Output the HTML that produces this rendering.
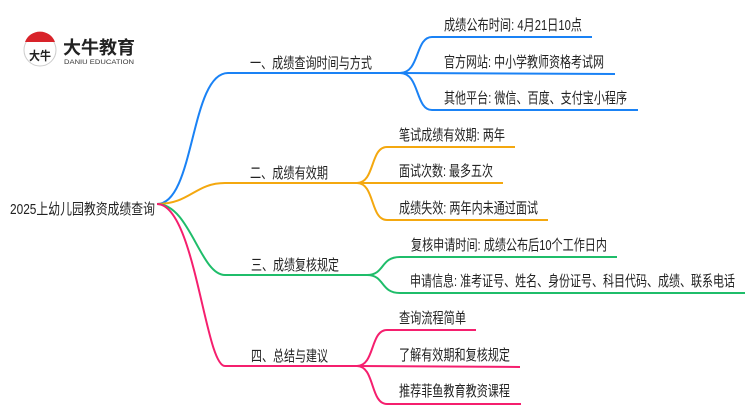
<!DOCTYPE html>
<html><head><meta charset="utf-8"><style>
body{margin:0;background:#fff;width:750px;height:410px;overflow:hidden;font-family:"Liberation Sans","Noto Sans CJK SC",sans-serif}
svg text{font-family:"Liberation Sans","Noto Sans CJK SC",sans-serif;fill:#222}
</style></head><body>
<svg width="750" height="410" viewBox="0 0 750 410" xmlns="http://www.w3.org/2000/svg">
<g fill="none" stroke-width="2">
<path d="M157,204 C195,204 190,73 228,73 L400,73" stroke="#1a82f5"/>
<path d="M157,204 C190,204 195,183 225,183 L357,183" stroke="#f4a80f"/>
<path d="M157,204 C190,204 200,275 225,275 L367,275" stroke="#1fbd6a"/>
<path d="M157,204 C195,204 205,366 225,366 L357,366" stroke="#f51f6e"/>
<g stroke="#1a82f5">
<path d="M400,73 C420,73 415,37 432,37 L592,37"/>
<path d="M400,73 L615,74"/>
<path d="M400,73 C420,73 415,110 432,110 L638,110"/>
</g>
<g stroke="#f4a80f">
<path d="M357,183 C375,183 370,147 387,147 L515,147"/>
<path d="M357,183 L503,183"/>
<path d="M357,183 C375,183 370,220 387,220 L548,220"/>
</g>
<g stroke="#1fbd6a">
<path d="M367,275 C385,275 380,257 400,257 L617,257"/>
<path d="M367,275 C385,275 380,293 400,293 L745,293"/>
</g>
<g stroke="#f51f6e">
<path d="M357,366 C375,366 370,330 387,330 L476,330"/>
<path d="M357,366 L520,367"/>
<path d="M357,366 C375,366 370,404 387,404 L521,404"/>
</g>
</g>
<circle cx="40" cy="50" r="16" fill="#fff" stroke="#ccc" stroke-width="1"/>
<path d="M25,42 A16,16 0 0 1 55,42 Z" fill="#d8232a"/>
<text x="29" y="60" font-size="12" font-weight="bold" textLength="22" lengthAdjust="spacingAndGlyphs">大牛</text>
<text x="63" y="54" font-size="18" font-weight="bold" textLength="72" lengthAdjust="spacingAndGlyphs">大牛教育</text>
<text x="64" y="64" font-size="6.5" style="fill:#333" textLength="70" lengthAdjust="spacingAndGlyphs">DANIU EDUCATION</text>
<g font-size="15" lengthAdjust="spacingAndGlyphs">
<text x="10" y="214" textLength="145" lengthAdjust="spacingAndGlyphs">2025上幼儿园教资成绩查询</text>
<text x="250" y="68" textLength="122" lengthAdjust="spacingAndGlyphs">一、成绩查询时间与方式</text>
<text x="250" y="178" textLength="78" lengthAdjust="spacingAndGlyphs">二、成绩有效期</text>
<text x="251" y="270" textLength="88" lengthAdjust="spacingAndGlyphs">三、成绩复核规定</text>
<text x="251" y="361" textLength="77" lengthAdjust="spacingAndGlyphs">四、总结与建议</text>
<text x="444" y="30" textLength="138" lengthAdjust="spacingAndGlyphs">成绩公布时间: 4月21日10点</text>
<text x="444" y="67" textLength="160" lengthAdjust="spacingAndGlyphs">官方网站: 中小学教师资格考试网</text>
<text x="444" y="103" textLength="183" lengthAdjust="spacingAndGlyphs">其他平台: 微信、百度、支付宝小程序</text>
<text x="399" y="140" textLength="106" lengthAdjust="spacingAndGlyphs">笔试成绩有效期: 两年</text>
<text x="399" y="176" textLength="94" lengthAdjust="spacingAndGlyphs">面试次数: 最多五次</text>
<text x="399" y="213" textLength="139" lengthAdjust="spacingAndGlyphs">成绩失效: 两年内未通过面试</text>
<text x="411" y="250" textLength="196" lengthAdjust="spacingAndGlyphs">复核申请时间: 成绩公布后10个工作日内</text>
<text x="410" y="286" textLength="325" lengthAdjust="spacingAndGlyphs">申请信息: 准考证号、姓名、身份证号、科目代码、成绩、联系电话</text>
<text x="399" y="323" textLength="67" lengthAdjust="spacingAndGlyphs">查询流程简单</text>
<text x="399" y="360" textLength="111" lengthAdjust="spacingAndGlyphs">了解有效期和复核规定</text>
<text x="399" y="396" textLength="111" lengthAdjust="spacingAndGlyphs">推荐菲鱼教育教资课程</text>
</g>
</svg>
</body></html>
